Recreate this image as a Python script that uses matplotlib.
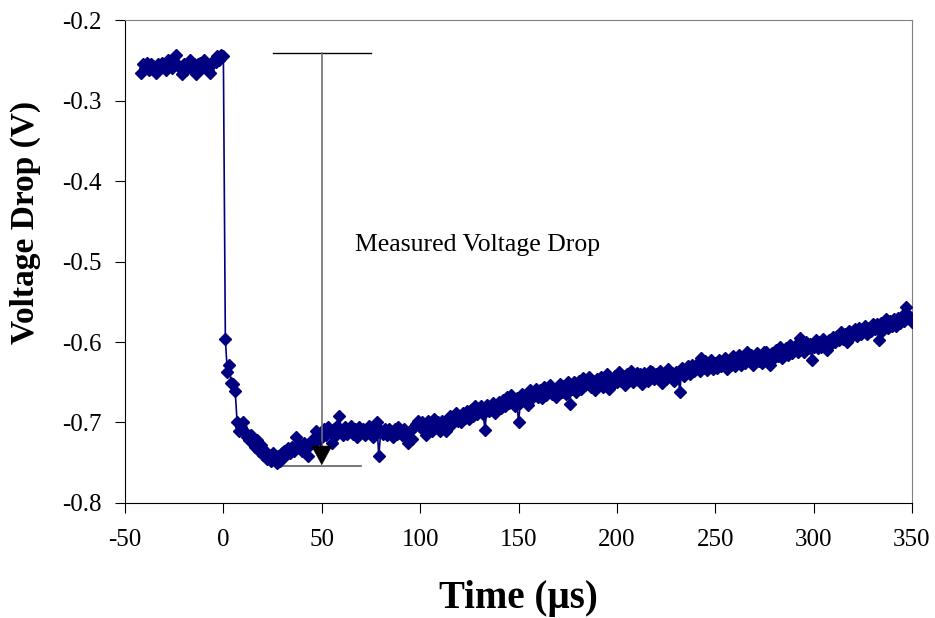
## Import necessary libraries
import numpy as np
import matplotlib
matplotlib.use("Agg")
import matplotlib.pyplot as plt

## Sample times (µs), one reading per microsecond
time_us = np.arange(-42, 351)

## Voltage readings (mV)
voltage_mv = [
    # -42 .. -33
    -266, -255, -260, -253, -262, -255, -257, -260, -266, -255,
    # -32 .. -23
    -260, -253, -257, -262, -250, -255, -260, -253, -244, -256,
    # -22 .. -13
    -260, -267, -255, -262, -253, -250, -260, -255, -267, -255,
    # -12 .. -5
    -253, -260, -250, -255, -262, -266, -255, -250,
    # -4 .. 0
    -252, -245, -250, -244, -245,
    # 1 .. 10
    -596, -637, -629, -651, -652, -661, -700, -710, -705, -700,
    # 11 .. 20
    -712, -718, -722, -715, -725, -730, -722, -735, -728, -740,
    # 21 .. 30
    -735, -745, -740, -748, -738, -745, -750, -742, -748, -738,
    # 31 .. 40
    -735, -740, -732, -738, -730, -735, -718, -730, -728, -735,
    # 41 .. 50
    -725, -730, -742, -728, -722, -725, -710, -715, -720, -712,
    # 51 .. 60
    -708, -716, -706, -712, -725, -708, -716, -704, -692, -712,
    # 61 .. 70
    -716, -706, -714, -708, -704, -714, -708, -718, -706, -712,
    # 71 .. 80
    -708, -716, -710, -704, -712, -718, -710, -700, -742, -710,
    # 81 .. 90
    -714, -708, -716, -708, -712, -718, -708, -714, -706, -713,
    # 91 .. 100
    -716, -708, -718, -726, -710, -720, -706, -702, -698, -706,
    # 101 .. 110
    -700, -708, -715, -698, -704, -710, -696, -704, -700, -710,
    # 111 .. 120
    -698, -704, -710, -700, -692, -702, -696, -688, -698, -692,
    # 121 .. 130
    -700, -688, -694, -686, -696, -684, -692, -680, -690, -686,
    # 131 .. 140
    -680, -690, -709, -678, -686, -680, -676, -688, -680, -674,
    # 141 .. 150
    -682, -672, -680, -668, -676, -666, -674, -680, -670, -699,
    # 151 .. 160
    -676, -664, -672, -668, -678, -660, -670, -664, -658, -668,
    # 161 .. 170
    -660, -670, -656, -666, -660, -654, -664, -658, -668, -656,
    # 171 .. 180
    -652, -662, -655, -664, -650, -677, -658, -650, -662, -654,
    # 181 .. 190
    -648, -658, -645, -654, -650, -643, -656, -648, -660, -646,
    # 191 .. 200
    -652, -644, -656, -648, -640, -658, -646, -652, -642, -650,
    # 201 .. 210
    -637, -648, -642, -654, -640, -646, -636, -650, -642, -638,
    # 211 .. 220
    -646, -640, -652, -638, -644, -648, -636, -637, -646, -640,
    # 221 .. 230
    -644, -636, -651, -640, -646, -634, -642, -638, -648, -637,
    # 231 .. 240
    -640, -662, -632, -642, -636, -630, -640, -628, -636, -631,
    # 241 .. 250
    -626, -636, -620, -632, -624, -635, -628, -622, -634, -626,
    # 251 .. 260
    -632, -622, -630, -626, -620, -634, -624, -628, -618, -630,
    # 261 .. 270
    -624, -616, -628, -620, -626, -612, -622, -616, -628, -618,
    # 271 .. 280
    -614, -624, -618, -626, -612, -612, -620, -629, -614, -620,
    # 281 .. 290
    -610, -618, -606, -620, -612, -608, -616, -604, -614, -610,
    # 291 .. 300
    -604, -612, -595, -606, -612, -600, -608, -602, -622, -606,
    # 301 .. 310
    -598, -608, -600, -606, -596, -604, -610, -598, -602, -594,
    # 311 .. 320
    -600, -592, -598, -588, -596, -590, -600, -586, -594, -588,
    # 321 .. 330
    -584, -592, -582, -590, -586, -580, -590, -582, -586, -578,
    # 331 .. 340
    -584, -578, -597, -576, -586, -578, -572, -582, -574, -580,
    # 341 .. 350
    -572, -580, -570, -576, -568, -574, -556, -566, -569, -575,
]

## Annotation values
drop_time = 50
drop_top = -0.241
drop_bottom = -0.754
label_text = "Measured Voltage Drop"

voltage_v = np.array(voltage_mv) / 1000.0
assert len(voltage_v) == len(time_us)

plt.rcParams['font.family'] = ['Liberation Serif', 'DejaVu Serif']
plt.rcParams['axes.unicode_minus'] = False

fig = plt.figure(figsize=(9.35, 6.18), dpi=100)
ax = fig.add_axes([0.1337, 0.1861, 0.8417, 0.7815])

ax.plot(time_us, voltage_v, color='#000080', lw=1.2, marker='D',
        ms=6.5, mec='#000080', mfc='#000080', zorder=3)

## Annotation: bracket lines and arrow
ax.plot([25, 75], [drop_top, drop_top], color='black', lw=1.0, zorder=2)
ax.plot([29, 70], [drop_bottom, drop_bottom], color='#606060', lw=1.2, zorder=2)
ax.plot([drop_time, drop_time], [drop_top, drop_bottom + 0.015],
        color='#707070', lw=1.2, zorder=4)
ax.annotate('', xy=(drop_time, drop_bottom + 0.001),
            xytext=(drop_time, drop_bottom + 0.03),
            arrowprops=dict(arrowstyle='-|>,head_length=0.55,head_width=0.3',
                            color='black', lw=0.5, mutation_scale=24,
                            shrinkA=0, shrinkB=0),
            zorder=5)
ax.text(67, -0.48, label_text, fontsize=18.5, va='center', ha='left')

ax.set_xlim(-50, 350)
ax.set_ylim(-0.8, -0.2)
ax.set_xticks(np.arange(-50, 351, 50))
ax.set_yticks(np.arange(-0.8, -0.19, 0.1))
ax.set_yticklabels(['-0.8', '-0.7', '-0.6', '-0.5', '-0.4', '-0.3', '-0.2'])
ax.tick_params(direction='out', length=7, labelsize=18)
ax.tick_params(axis='x', pad=12)
ax.tick_params(axis='y', pad=10)

for side in ['top', 'right']:
    ax.spines[side].set_color('#808080')
for side in ['left', 'bottom']:
    ax.spines[side].set_color('black')

ax.set_xlabel('Time (µs)', fontsize=28, fontweight='bold')
ax.set_ylabel('Voltage Drop (V)', fontsize=24, fontweight='bold')
ax.xaxis.set_label_coords(0.5, -0.197)
ax.xaxis.label.set_va('center')
ax.yaxis.set_label_coords(-0.126, 0.58)
ax.yaxis.label.set_va('center')

fig.savefig('out.png', dpi=100)
